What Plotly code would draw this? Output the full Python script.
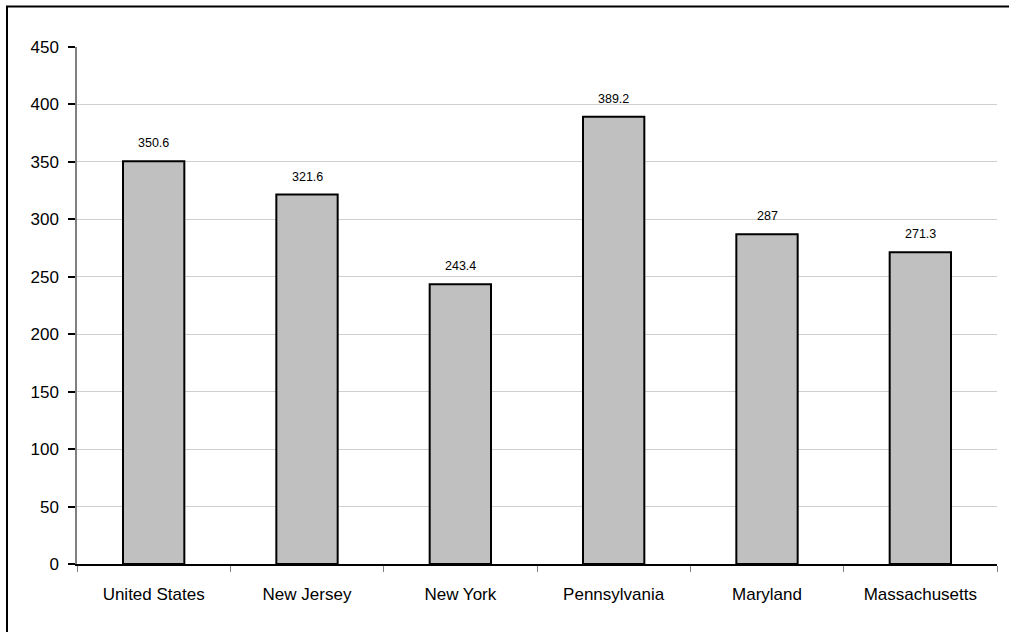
import plotly.graph_objects as go

# Values per jurisdiction
states = ["United States", "New Jersey", "New York", "Pennsylvania", "Maryland", "Massachusetts"]
values = [350.6, 321.6, 243.4, 389.2, 287, 271.3]
value_labels = ["350.6", "321.6", "243.4", "389.2", "287", "271.3"]
y_ticks = [0, 50, 100, 150, 200, 250, 300, 350, 400, 450]

FONT = "Liberation Sans, Arial, sans-serif"

fig = go.Figure(
    go.Bar(
        x=states,
        y=values,
        marker=dict(color="#C0C0C0", line=dict(color="#000000", width=2)),
        width=0.4,
        hoverinfo="x+y",
    )
)

# Value labels above each bar
for s, v, lab in zip(states, values, value_labels):
    fig.add_annotation(
        x=s, y=v, text=lab, showarrow=False, yanchor="bottom", yshift=9,
        font=dict(family=FONT, size=12.5, color="#000000"),
    )

L, R, T, B = 77, 13, 47, 69
W, H = 1010, 633
pw, ph = W - L - R, H - T - B
def px(x):
    return (x - L) / pw
def py(y):
    return (H - B - y) / ph

# Frame along the left and top page edges as one open path
frame_path = "M {:.5f},{:.5f} L {:.5f},{:.5f} L {:.5f},{:.5f}".format(
    px(7), py(H - 1), px(7), py(6.5), px(W - 1), py(6.5))
fig.add_shape(type="path", xref="paper", yref="paper", path=frame_path,
              line=dict(color="#000000", width=2), fillcolor="rgba(0,0,0,0)")

fig.update_layout(
    width=W, height=H,
    margin=dict(l=L, r=R, t=T, b=B),
    paper_bgcolor="#FFFFFF",
    plot_bgcolor="#FFFFFF",
    showlegend=False,
    font=dict(family=FONT, size=17, color="#000000"),
    xaxis=dict(
        type="category",
        showline=True, linecolor="#000000", linewidth=1.5,
        ticks="outside", tickson="boundaries", ticklen=6, tickcolor="#808080", tickwidth=1,
        ticklabelstandoff=14,
        showgrid=False, zeroline=False,
        tickfont=dict(family=FONT, size=17, color="#000000"),
    ),
    yaxis=dict(
        range=[0, 450],
        tickvals=y_ticks,
        showline=True, linecolor="#808080", linewidth=1.5,
        ticks="outside", ticklen=7, tickcolor="#000000", tickwidth=1.5,
        ticklabelstandoff=6,
        showgrid=True, gridcolor="#CFCFCF", gridwidth=1,
        zeroline=False,
        tickfont=dict(family=FONT, size=17, color="#000000"),
    ),
)

fig.write_html("out.html")
